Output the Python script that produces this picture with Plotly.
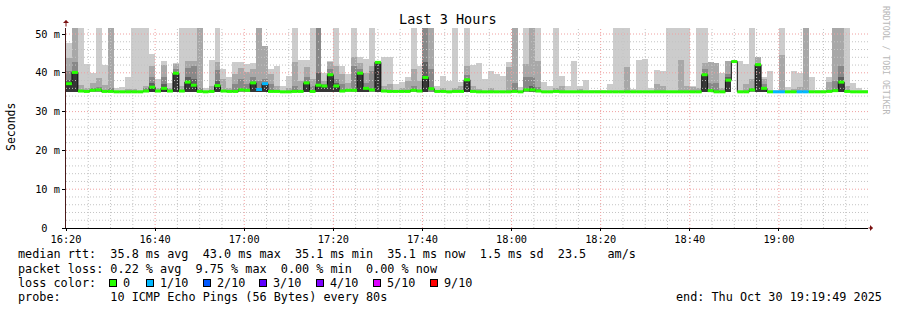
import pandas as pd
import plotly.graph_objects as go

# ---------------- data (ms) ----------------
start_time = "2025-10-30 16:20:00"
step_seconds = 80
n_steps = 135

# smoke band tops (lightest -> darkest); 0 = band not visible
smoke_l = [
    47.6, 52, 52, 42.4, 39.9, 52, 42.0, 52, 36.0, 36.3,
    38.8, 52, 52, 52, 44.8, 38.4, 43.1, 37.5, 42.6, 52,
    52, 52, 52, 36.1, 43.3, 52, 40.9, 38.8, 42.7, 42.7,
    42.3, 42.5, 52, 47.0, 41.0, 41.8, 36.7, 39.3, 52, 43.3,
    43.3, 52, 52, 40.0, 43.0, 52, 41.8, 39.7, 52, 44.0,
    43.6, 52, 43.0, 44.0, 44.0, 37.2, 37.6, 38.8, 52, 41.8,
    52, 52, 36.7, 39.3, 38.0, 52, 37.7, 52, 41.9, 42.6,
    38.4, 40.4, 39.7, 39.3, 42.9, 52, 36.3, 52, 52, 52,
    37.6, 36.7, 52, 39.3, 36.7, 43.1, 36.5, 38.2, 35.6, 35.5,
    35.6, 37.1, 52, 52, 52, 35.8, 43.3, 43.6, 36.1, 40.6,
    40.5, 52, 52, 52, 52, 36.7, 52, 52, 42.7, 42.5,
    39.9, 43.0, 43.2, 43.0, 42.3, 52, 44.0, 39.0, 40.4, 35.5,
    52, 36.3, 40.4, 39.9, 52, 39.0, 35.6, 35.5, 39.0, 52,
    52, 52, 37.5, 36.2, 35.6,
]
smoke_m = [
    43.8, 52, 36.8, 36.2, 37.4, 38.7, 36.9, 52, 0, 0,
    35.8, 35.8, 0, 36.5, 41.8, 36.2, 42.0, 36.0, 42.4, 36.5,
    43.0, 43.0, 52, 0, 36.5, 42.7, 38.5, 36.0, 39.7, 41.3,
    40.1, 41.0, 52, 47.0, 39.7, 36.5, 0, 36.0, 42.7, 38.0,
    41.6, 38.5, 52, 38.0, 42.9, 41.8, 39.7, 37.3, 44.0, 42.5,
    40.0, 41.8, 42.8, 36.5, 37.0, 0, 36.2, 37.8, 41.0, 38.0,
    52, 52, 0, 36.0, 0, 36.0, 36.5, 41.8, 36.5, 35.8,
    0, 36.2, 0, 0, 41.6, 52, 0, 42.4, 52, 43.1,
    0, 0, 36.0, 36.7, 0, 0, 35.8, 0, 0, 0,
    0, 0, 0, 0, 41.6, 0, 0, 0, 0, 37.2,
    36.5, 0, 0, 43.3, 36.5, 36.3, 36.0, 42.6, 42.7, 42.5,
    36.0, 43.0, 0, 0, 37.2, 38.3, 44.0, 38.3, 0, 0,
    44.6, 0, 35.8, 36.4, 52, 0, 0, 0, 37.6, 52,
    52, 36.6, 0, 0, 0,
]
smoke_d = [
    40.5, 42.8, 0, 0, 36.0, 36.3, 0, 36.0, 0, 0,
    0, 0, 0, 36.0, 38.8, 0, 38.8, 0, 41.0, 0,
    41.2, 41.8, 36.0, 0, 0, 40.6, 0, 0, 37.0, 38.5,
    37.0, 39.0, 38.0, 38.5, 37.0, 0, 0, 0, 36.5, 0,
    39.0, 36.5, 52, 37.0, 41.0, 38.5, 37.0, 0, 41.8, 41.0,
    37.5, 40.5, 41.0, 0, 0, 0, 0, 0, 36.5, 0,
    52, 40.9, 0, 0, 0, 0, 0, 39.5, 0, 0,
    0, 0, 0, 0, 0, 37.3, 0, 38.8, 38.8, 36.3,
    0, 0, 0, 0, 0, 0, 0, 0, 0, 0,
    0, 0, 0, 0, 0, 0, 0, 0, 0, 0,
    0, 0, 0, 0, 0, 0, 0, 40.9, 37.4, 37.4,
    0, 39.7, 0, 0, 0, 36.0, 41.0, 37.0, 0, 0,
    0, 0, 0, 0, 0, 0, 0, 0, 0, 38.0,
    41.7, 0, 0, 0, 0,
]
smoke_e = [
    38.2, 0, 0, 0, 0, 0, 0, 0, 0, 0,
    0, 0, 0, 0, 37.5, 0, 37.0, 0, 0, 0,
    39.0, 38.5, 0, 0, 0, 38.0, 0, 0, 0, 0,
    0, 0, 0, 0, 0, 0, 0, 0, 0, 0,
    0, 0, 40.0, 0, 0, 37.5, 0, 0, 0, 0,
    0, 0, 0, 0, 0, 0, 0, 0, 0, 0,
    42.7, 0, 0, 0, 0, 0, 0, 0, 0, 0,
    0, 0, 0, 0, 0, 0, 0, 0, 36.5, 0,
    0, 0, 0, 0, 0, 0, 0, 0, 0, 0,
    0, 0, 0, 0, 0, 0, 0, 0, 0, 0,
    0, 0, 0, 0, 0, 0, 0, 0, 0, 0,
    0, 38.8, 0, 0, 0, 0, 0, 0, 0, 0,
    0, 0, 0, 0, 0, 0, 0, 0, 0, 0,
    39.0, 0, 0, 0, 0,
]
smoke_k = [
    37.6, 40.1, 0, 0, 0, 0, 0, 0, 0, 0,
    0, 0, 0, 0, 36.3, 0, 36.0, 0, 39.9, 0,
    37.6, 36.8, 0, 0, 0, 36.7, 0, 0, 0, 0,
    0, 37.4, 35.7, 37.2, 0, 0, 0, 0, 0, 0,
    37.4, 0, 36.8, 36.6, 39.5, 36.6, 0, 0, 0, 39.9,
    36.0, 0, 42.7, 0, 0, 0, 0, 0, 0, 0,
    38.8, 0, 0, 0, 0, 0, 0, 38.2, 0, 0,
    0, 0, 0, 0, 0, 0, 0, 0, 0, 0,
    0, 0, 0, 0, 0, 0, 0, 0, 0, 0,
    0, 0, 0, 0, 0, 0, 0, 0, 0, 0,
    0, 0, 0, 0, 0, 0, 0, 39.5, 0, 0,
    0, 38.1, 0, 0, 0, 0, 42.1, 36.0, 0, 0,
    0, 0, 0, 0, 0, 0, 0, 0, 0, 0,
    37.6, 0, 0, 0, 0,
]
median_rtt = [
    37.2, 40.1, 35.3, 35.2, 35.5, 35.6, 35.2, 35.2, 35.1, 35.1,
    35.1, 35.1, 35.1, 35.3, 36.3, 35.3, 36.0, 35.3, 39.9, 35.3,
    37.6, 36.8, 35.2, 35.1, 35.2, 36.7, 35.3, 35.2, 35.2, 35.6,
    35.5, 37.4, 35.7, 37.2, 35.2, 35.2, 35.1, 35.1, 35.2, 35.2,
    37.4, 35.2, 36.8, 36.6, 39.5, 36.6, 35.3, 35.5, 35.5, 39.9,
    36.0, 35.6, 42.7, 35.3, 35.2, 35.2, 35.2, 35.2, 35.5, 35.3,
    38.8, 35.9, 35.2, 35.2, 35.1, 35.2, 35.2, 38.2, 35.2, 35.1,
    35.1, 35.1, 35.1, 35.1, 35.1, 35.2, 35.1, 35.6, 35.6, 35.3,
    35.1, 35.1, 35.2, 35.1, 35.1, 35.1, 35.1, 35.1, 35.1, 35.1,
    35.1, 35.1, 35.1, 35.1, 35.1, 35.1, 35.1, 35.1, 35.1, 35.1,
    35.1, 35.1, 35.1, 35.1, 35.1, 35.1, 35.1, 39.5, 35.4, 35.1,
    35.1, 38.1, 42.9, 35.1, 35.1, 35.6, 42.1, 36.0, 35.1, 35.1,
    35.1, 35.1, 35.1, 35.1, 35.1, 35.1, 35.1, 35.1, 35.2, 35.4,
    37.6, 35.2, 35.1, 35.1, 35.1,
]
loss_tenths = [
    0, 0, 0, 0, 0, 0, 0, 0, 0, 0,
    0, 0, 0, 0, 0, 0, 0, 0, 0, 0,
    0, 0, 0, 0, 0, 0, 0, 0, 0, 0,
    0, 0, 1, 1, 0, 0, 0, 0, 0, 0,
    0, 0, 0, 0, 0, 0, 0, 0, 0, 0,
    0, 0, 0, 0, 0, 0, 0, 0, 0, 0,
    0, 0, 0, 0, 0, 0, 0, 0, 0, 0,
    0, 0, 0, 0, 0, 0, 0, 0, 0, 0,
    0, 0, 0, 0, 0, 0, 0, 0, 0, 0,
    0, 0, 0, 0, 0, 0, 0, 0, 0, 0,
    0, 0, 0, 0, 0, 0, 0, 0, 0, 0,
    0, 0, 0, 0, 0, 0, 0, 0, 0, 1,
    1, 0, 0, 1, 1, 0, 0, 0, 0, 0,
    0, 0, 0, 0, 0,
]
smoke_floor = 35.0
smoke_floor_override = {112: 42.6}

loss_labels = ["0", "1/10", "2/10", "3/10", "4/10", "5/10", "9/10"]
loss_levels = [0, 1, 2, 3, 4, 5, 9]
loss_colors = ["#26ff00", "#00b8ff", "#0059ff", "#5e00ff", "#7e00ff", "#dd00ff", "#ff0000"]

x_tick_labels = ["16:20", "16:40", "17:00", "17:20", "17:40", "18:00", "18:20", "18:40", "19:00"]
y_tick_vals = [0, 10, 20, 30, 40, 50]
y_tick_text = ["0\u00a0\u00a0", "10 m", "20 m", "30 m", "40 m", "50 m"]
y_max = 51.55

stats_lines = [
    "median rtt:  35.8 ms avg  43.0 ms max  35.1 ms min  35.1 ms now  1.5 ms sd  23.5   am/s",
    "packet loss: 0.22 % avg  9.75 % max  0.00 % min  0.00 % now",
    "loss color:",
    "probe:       10 ICMP Echo Pings (56 Bytes) every 80s",
]
end_text = "end: Thu Oct 30 19:19:49 2025"
title_text = "Last 3 Hours"
y_title = "Seconds"
watermark = "RRDTOOL / TOBI OETIKER"

# ---------------- figure ----------------
W, H = 897, 310
ML, MR, MT, MB = 66, 29, 28, 82
PW, PH = W - ML - MR, H - MT - MB
MONO = "DejaVu Sans Mono"
GRID_MAJOR = "#f0a0a0"
GRID_MINOR = "#c4c4c4"
DOTS = "1px,2px"

def px_x(px):
    return (px - ML) / PW

def px_y(py):
    return (H - MB - py) / PH

t0 = pd.Timestamp(start_time)
step = pd.Timedelta(seconds=step_seconds)
starts = pd.date_range(t0, periods=n_steps, freq=f"{step_seconds}s")
centers = starts + step / 2
ends = starts + step
floors = [smoke_floor_override.get(i, smoke_floor) for i in range(n_steps)]
x_end = t0 + pd.Timedelta(hours=3)
x_tick_vals = [pd.Timestamp(t0.strftime("%Y-%m-%d ") + s) for s in x_tick_labels]

fig = go.Figure()

band_colors = ["#cccccc", "#a8a8a8", "#888888", "#5e5e5e", "#363636"]
for band, col in zip([smoke_l, smoke_m, smoke_d, smoke_e, smoke_k], band_colors):
    ys = [(v - f) if v and v > f else None for v, f in zip(band, floors)]
    fig.add_trace(go.Bar(
        x=centers, y=ys, base=floors, width=step_seconds * 1000,
        marker=dict(color=col, line=dict(width=0)), hoverinfo="skip", showlegend=False,
    ))

# grid drawn above the smoke (as rrdtool does)
minor_x = [t for t in pd.date_range(t0, x_end, freq="5min") if t not in x_tick_vals and t != x_end]
minor_y = [v for v in range(2, int(y_max) + 1, 2) if v not in y_tick_vals]

def vlines(ts):
    gx, gy = [], []
    for t in ts:
        gx += [t, t, None]
        gy += [0, y_max, None]
    return gx, gy

def hlines(vs):
    gx, gy = [], []
    for v in vs:
        gx += [t0, x_end, None]
        gy += [v, v, None]
    return gx, gy

for (gx, gy), col in [(vlines(minor_x), GRID_MINOR), (hlines(minor_y), GRID_MINOR),
                      (vlines([t for t in x_tick_vals if t != t0]), GRID_MAJOR),
                      (hlines([v for v in y_tick_vals if v != 0]), GRID_MAJOR)]:
    fig.add_trace(go.Scatter(x=gx, y=gy, mode="lines", line=dict(color=col, width=1, dash=DOTS),
                             hoverinfo="skip", showlegend=False))

# thin dark median step line (shows jumps)
xs = list(starts) + [ends[-1]]
ys = list(median_rtt) + [median_rtt[-1]]
fig.add_trace(go.Scatter(x=xs, y=ys, mode="lines", line=dict(color="#111111", width=1, shape="hv"),
                         hoverinfo="skip", showlegend=False))

# thick loss-coloured median segments
for lvl, col in zip(loss_levels, loss_colors):
    sx, sy = [], []
    for i in range(n_steps):
        if loss_tenths[i] == lvl:
            sx += [starts[i], ends[i], None]
            sy += [median_rtt[i], median_rtt[i], None]
    if sx:
        fig.add_trace(go.Scatter(x=sx, y=sy, mode="lines", line=dict(color=col, width=3),
                                 hoverinfo="skip", showlegend=False, connectgaps=False))

fig.update_layout(
    width=W, height=H, margin=dict(l=ML, r=MR, t=MT, b=MB),
    paper_bgcolor="white", plot_bgcolor="white",
    barmode="overlay", bargap=0, showlegend=False,
    font=dict(family=MONO, color="#000000"),
    xaxis=dict(
        type="date", range=[t0, x_end],
        tickvals=x_tick_vals, ticktext=x_tick_labels,
        showgrid=False,
        showline=True, linecolor="#000000", linewidth=1,
        ticks="outside", ticklen=2, tickcolor="#000000",
        tickfont=dict(family=MONO, size=10.3, color="#000000"),
        zeroline=False, fixedrange=True, layer="above traces",
    ),
    yaxis=dict(
        range=[0, y_max], tickvals=y_tick_vals, ticktext=y_tick_text,
        showgrid=False,
        showline=True, linecolor="#4a1a1a", linewidth=1,
        ticks="outside", ticklen=3, tickcolor="#000000",
        tickfont=dict(family=MONO, size=10.3, color="#000000"),
        zeroline=False, fixedrange=True, layer="above traces",
    ),
)

ann = []
ann.append(dict(text=title_text, x=px_x(447.5), y=px_y(19), xref="paper", yref="paper",
                xanchor="center", yanchor="middle", showarrow=False,
                font=dict(family=MONO, size=13.5, color="#000")))
ann.append(dict(text=y_title, x=px_x(11), y=px_y(127), xref="paper", yref="paper",
                xanchor="center", yanchor="middle", textangle=-90, showarrow=False,
                font=dict(family=MONO, size=11.5, color="#000")))
ann.append(dict(text=watermark, x=px_x(886), y=px_y(60), xref="paper", yref="paper",
                xanchor="center", yanchor="middle", textangle=90, showarrow=False,
                font=dict(family=MONO, size=8.2, color="#b8b8b8")))
row_y = [254, 268.5, 282.5, 296.5]
for txt, ry in zip(stats_lines, row_y):
    ann.append(dict(text=txt.replace(" ", "\u00a0"), x=px_x(16), y=px_y(ry), xref="paper", yref="paper",
                    xanchor="left", yanchor="middle", showarrow=False,
                    font=dict(family=MONO, size=11.8, color="#000")))
ann.append(dict(text=end_text.replace(" ", "\u00a0"), x=px_x(884), y=px_y(row_y[3]), xref="paper", yref="paper",
                xanchor="right", yanchor="middle", showarrow=False,
                font=dict(family=MONO, size=11.8, color="#000")))
swatch_px = [108.5, 146, 202.5, 259, 316, 373, 429.5]
for sx_, lab, col in zip(swatch_px, loss_labels, loss_colors):
    ann.append(dict(text="", x=px_x(sx_), y=px_y(row_y[2]), xref="paper", yref="paper",
                    xanchor="left", yanchor="middle", showarrow=False, width=6, height=6,
                    bgcolor=col, bordercolor="#000000", borderwidth=1, borderpad=0))
    ann.append(dict(text=lab.replace(" ", "\u00a0"), x=px_x(sx_ + 12), y=px_y(row_y[2]), xref="paper", yref="paper",
                    xanchor="left", yanchor="middle", showarrow=False,
                    font=dict(family=MONO, size=11.8, color="#000")))
# axis arrows
ann.append(dict(text="", x=0, y=px_y(20), xref="paper", yref="paper", ax=0, ay=8,
                showarrow=True, arrowhead=1, arrowsize=1, arrowwidth=1, arrowcolor="#7a1010"))
ann.append(dict(text="", x=px_x(873), y=0, xref="paper", yref="paper", ax=-6, ay=0,
                showarrow=True, arrowhead=1, arrowsize=1, arrowwidth=1, arrowcolor="#7a1010"))
fig.update_layout(annotations=ann)

fig.write_html("out.html")
